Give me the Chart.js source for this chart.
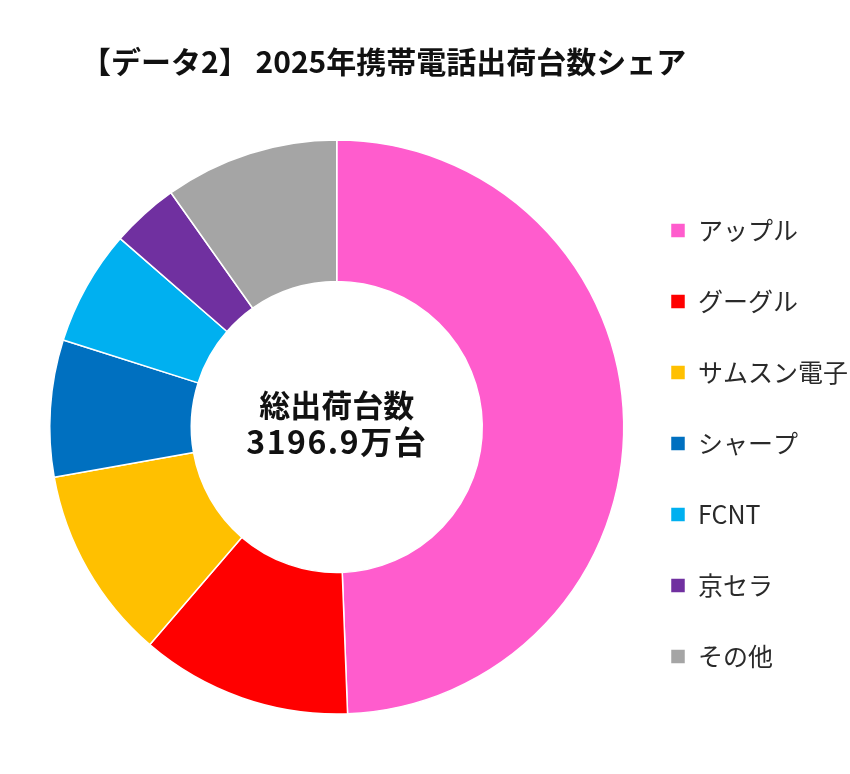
<!DOCTYPE html>
<html>
<head>
<meta charset="utf-8">
<script src="https://cdn.jsdelivr.net/npm/chart.js@4/dist/chart.umd.min.js"></script>
<style>
  html, body { margin: 0; padding: 0; background: #fff; overflow: hidden; }
  #wrap { width: 850px; height: 774px; }
</style>
</head>
<body>
<div id="wrap"><canvas id="chart"></canvas></div>
<script>
const makers = ['アップル', 'グーグル', 'サムスン電子', 'シャープ', 'FCNT', '京セラ', 'その他']
const shares = [49.4, 11.9, 10.9, 7.7, 6.5, 3.8, 9.8]
const colors = ['#FF5CCD', '#FF0000', '#FFC000', '#0070C0', '#00B0F0', '#7030A0', '#A5A5A5']
const titleText = '【データ2】 2025年携帯電話出荷台数シェア'
const centerLines = ['総出荷台数', '3196.9万台']

const FONT = '"Noto Sans CJK JP", "Noto Sans", sans-serif'

// title + center label drawn on the canvas
const textPlugin = {
  id: 'texts',
  afterDraw(chart) {
    const ctx = chart.ctx
    ctx.save()
    ctx.fillStyle = '#111'
    ctx.textBaseline = 'middle'
    ctx.textAlign = 'left'
    ctx.font = 'bold 30px ' + FONT
    ctx.fillText(titleText, 81, 62)

    const arc = chart.getDatasetMeta(0).data[0]
    ctx.textAlign = 'center'
    ctx.font = 'bold 31px ' + FONT
    ctx.fillText(centerLines[0], arc.x, arc.y - 22)
    ctx.font = 'bold 32px ' + FONT
    ctx.letterSpacing = '1.5px'
    ctx.fillText(centerLines[1], arc.x, arc.y + 15)
    ctx.restore()
  }
}

const data = {
  labels: makers,
  datasets: [
    {
      data: shares,
      backgroundColor: colors,
      borderColor: '#fff',
      borderWidth: 1.5,
      hoverOffset: 0,
    },
  ]
}

const chart_config = {
  type: 'doughnut',
  data: data,
  options: {
    responsive: true,
    maintainAspectRatio: false,
    animation: false,
    cutout: '50.7%',
    layout: {
      padding: { top: 139, left: 49, bottom: 59, right: -8 }
    },
    plugins: {
      legend: {
        position: 'right',
        align: 'end',
        labels: {
          boxWidth: 15,
          boxHeight: 15,
          padding: 46,
          color: '#2a2a2a',
          font: { family: FONT, size: 25 }
        }
      },
      title: { display: false },
      tooltip: { enabled: false }
    }
  },
  plugins: [textPlugin]
}

const chart = new Chart(
  document.getElementById('chart'),
  chart_config,
)
</script>
</body>
</html>
